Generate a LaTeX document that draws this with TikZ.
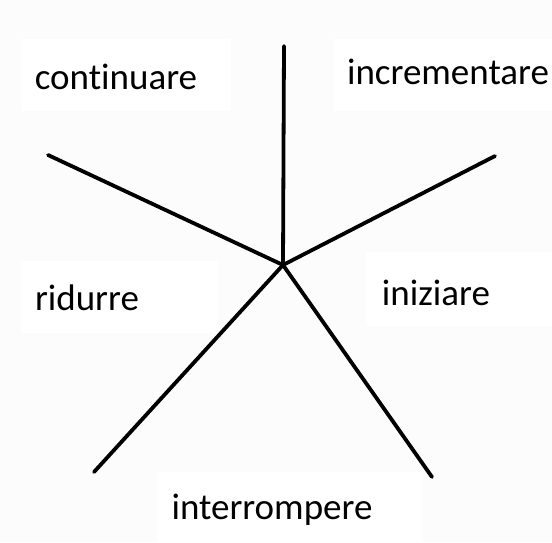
\documentclass[tikz,border=0pt]{standalone}
\usepackage{fontspec}
\setmainfont[Ligatures=NoCommon]{Carlito}
\definecolor{bgc}{HTML}{FBFCFB}
\begin{document}
\begin{tikzpicture}[x=1pt,y=-1pt,
  lbl/.style={fill=white,inner sep=0pt,font=\fontsize{37}{40}\selectfont,text=black},
  spoke/.style={line width=3.8pt,black,line cap=round}]
\fill[bgc] (0,0) rectangle (552,542);
\useasboundingbox (0,0) rectangle (552,542);
% white label boxes
\fill[white] (21,39) rectangle (231,111);
\fill[white] (334,39) rectangle (552,111);
\fill[white] (21,261) rectangle (218,333);
\fill[white] (366,252) rectangle (552,326);
\fill[white] (157,472) rectangle (422,542);
\coordinate (c) at (283,265);
\coordinate (t) at (284,46);
\coordinate (ul) at (48,155);
\coordinate (ur) at (495,156);
\coordinate (ll) at (94,472);
\coordinate (lr) at (432,477);
\draw[spoke] (c) -- (t);
\draw[spoke] (c) -- (ul);
\draw[spoke] (c) -- (ur);
\draw[spoke] (c) -- (ll);
\draw[spoke] (c) -- (lr);
\node[lbl] (n1) at (116,77) {continuare};
\node[lbl] (n2) at (448,72) {incrementare};
\node[lbl] (n3) at (87,298) {ridurre};
\node[lbl] (n4) at (436,293) {iniziare};
\node[lbl] (n5) at (272,510) {interrompere};
\end{tikzpicture}
\end{document}
